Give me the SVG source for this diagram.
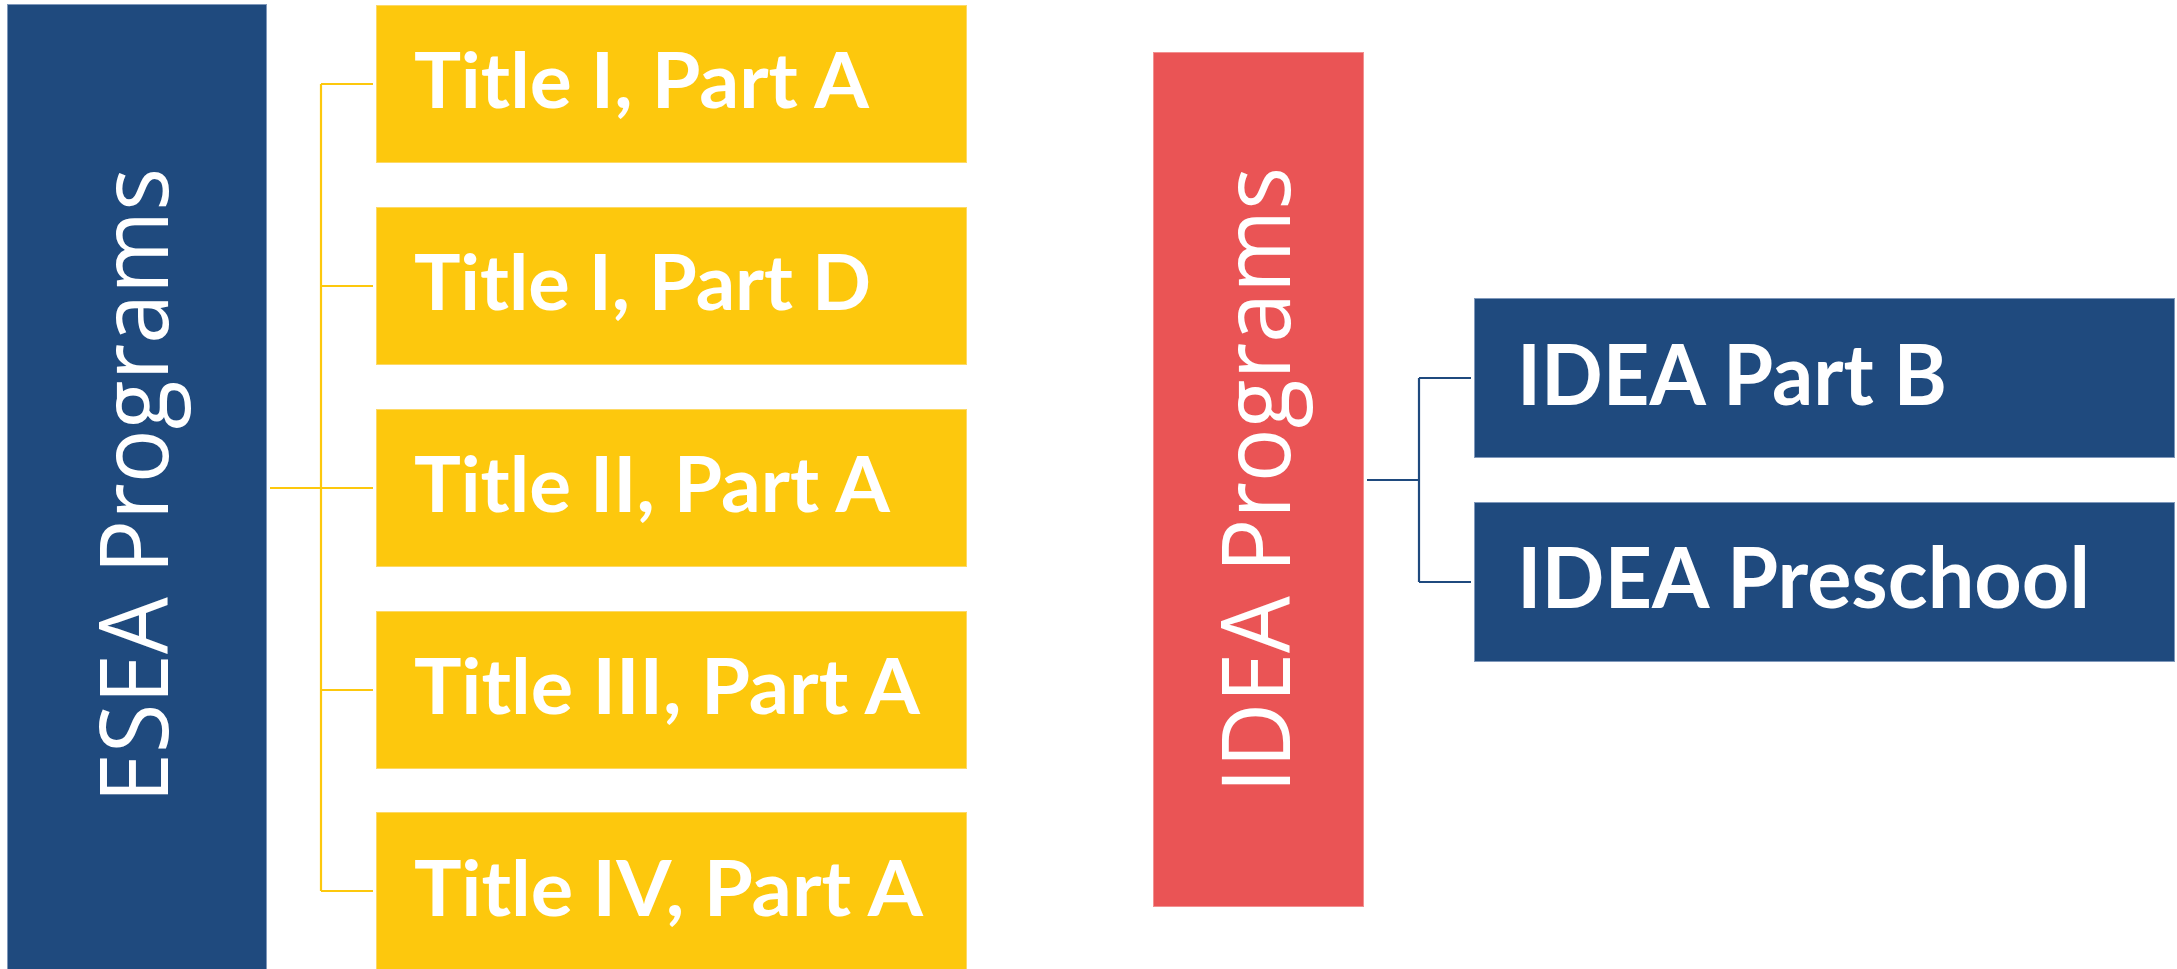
<svg xmlns="http://www.w3.org/2000/svg" width="2177" height="969" viewBox="0 0 2177 969">
<style>
.bg{fill:#ffffff}
.blue{fill:#1F4A7E;stroke:#7f98bb;stroke-width:1}
.yellow{fill:#FDC80D;stroke:#fdd966;stroke-width:1}
.red{fill:#EA5455;stroke:#f29090;stroke-width:1}
.big{font-family:"Open Sans","Liberation Sans",sans-serif;font-weight:400;font-size:95px;fill:#ffffff}
.lbl{font-family:Lato,"Open Sans","Liberation Sans",sans-serif;font-weight:700;font-size:77px;fill:#ffffff}
.lbl2{font-family:Lato,"Open Sans","Liberation Sans",sans-serif;font-weight:700;font-size:84px;fill:#ffffff}
.cy{stroke:#FDC80D;stroke-width:2.2;fill:none}
.cb{stroke:#1F4A7E;stroke-width:2.2;fill:none}
</style>
<rect class="bg" x="0" y="0" width="2177" height="969"/>
<g id="connectors">
  <path class="cy" d="M270 488 H373 M321 84 V891 M321 84 H373 M321 286 H373 M321 690 H373 M321 891 H373"/>
  <path class="cb" d="M1367 480 H1419 M1419 378 V582 M1419 378 H1471 M1419 582 H1471"/>
</g>
<g id="esea">
  <rect class="blue" x="7.5" y="4.5" width="259" height="966"/>
  <text class="big" transform="translate(168 485.5) rotate(-90)" text-anchor="middle" textLength="635" lengthAdjust="spacingAndGlyphs">ESEA Programs</text>
</g>
<g id="t1a">
  <rect class="yellow" x="376.5" y="5.5" width="590" height="157"/>
  <text class="lbl" x="414" y="108" textLength="455" lengthAdjust="spacingAndGlyphs">Title I, Part A</text>
</g>
<g id="t1d">
  <rect class="yellow" x="376.5" y="207.5" width="590" height="157"/>
  <text class="lbl" x="414" y="310" textLength="457" lengthAdjust="spacingAndGlyphs">Title I, Part D</text>
</g>
<g id="t2a">
  <rect class="yellow" x="376.5" y="409.5" width="590" height="157"/>
  <text class="lbl" x="414" y="512" textLength="476" lengthAdjust="spacingAndGlyphs">Title II, Part A</text>
</g>
<g id="t3a">
  <rect class="yellow" x="376.5" y="611.5" width="590" height="157"/>
  <text class="lbl" x="414" y="714" textLength="506" lengthAdjust="spacingAndGlyphs">Title III, Part A</text>
</g>
<g id="t4a">
  <rect class="yellow" x="376.5" y="812.5" width="590" height="160"/>
  <text class="lbl" x="414" y="916" textLength="509" lengthAdjust="spacingAndGlyphs">Title IV, Part A</text>
</g>
<g id="idea">
  <rect class="red" x="1153.5" y="52.5" width="210" height="854"/>
  <text class="big" transform="translate(1290 480) rotate(-90)" text-anchor="middle" textLength="626" lengthAdjust="spacingAndGlyphs">IDEA Programs</text>
</g>
<g id="ideab">
  <rect class="blue" x="1474.5" y="298.5" width="700" height="159"/>
  <text class="lbl2" x="1517" y="405" textLength="430" lengthAdjust="spacingAndGlyphs">IDEA Part B</text>
</g>
<g id="ideap">
  <rect class="blue" x="1474.5" y="502.5" width="700" height="159"/>
  <text class="lbl2" x="1517" y="608" textLength="573" lengthAdjust="spacingAndGlyphs">IDEA Preschool</text>
</g>
</svg>
